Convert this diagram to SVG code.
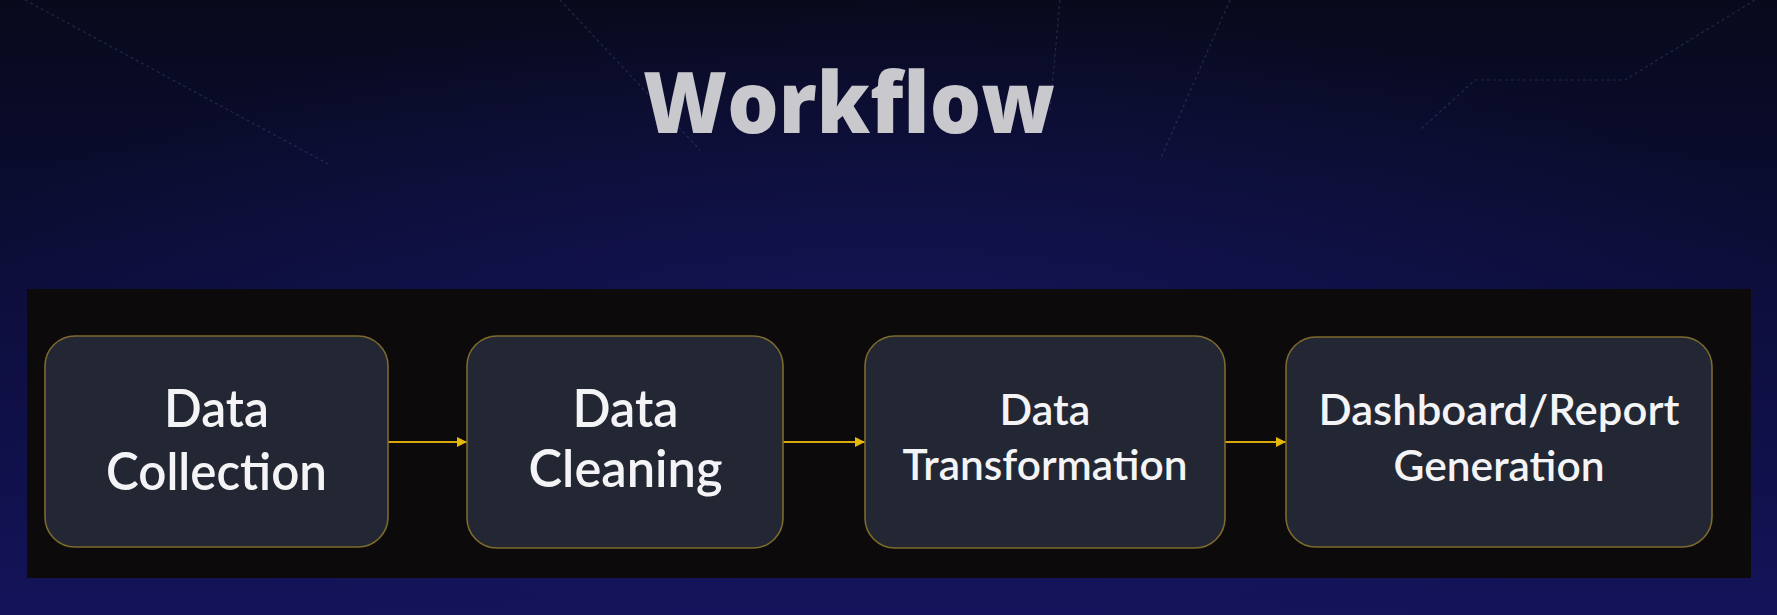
<svg xmlns="http://www.w3.org/2000/svg" width="1777" height="615" viewBox="0 0 1777 615">
<style>
.node rect{fill:#222733;stroke:#7d6a2c;stroke-width:1.6}
.lbl{font-family:"Lato","Liberation Sans",sans-serif;font-weight:600;fill:#f4f4f6;text-anchor:middle}
.big{font-size:51px}
.sm{font-size:43px}
.conn line{stroke:#d9a80c;stroke-width:2}
.deco{stroke:#5a6aa8;stroke-width:1.2;fill:none;stroke-dasharray:3 3;opacity:0.3}
</style>
<defs>
<linearGradient id="bg" x1="0" y1="0" x2="0" y2="1">
<stop offset="0" stop-color="#080a1c"/>
<stop offset="0.45" stop-color="#0c0d38"/>
<stop offset="1" stop-color="#14135a"/>
</linearGradient>
<radialGradient id="glow" cx="0.5" cy="0.55" r="0.55">
<stop offset="0" stop-color="#1a1a6a" stop-opacity="0.55"/>
<stop offset="1" stop-color="#1a1a6a" stop-opacity="0"/>
</radialGradient>
<marker id="ah" viewBox="0 0 10 10" refX="10" refY="5" markerWidth="5" markerHeight="5" orient="auto">
<path d="M0,0 L10,5 L0,10 z" fill="#e6b80a"/>
</marker>
</defs>
<rect width="1777" height="615" fill="url(#bg)"/>
<rect width="1777" height="615" fill="url(#glow)"/>
<g id="decoration">
<path class="deco" d="M25,0 L330,165"/>
<path class="deco" d="M560,0 L700,150"/>
<path class="deco" d="M1230,0 L1160,160"/>
<path class="deco" d="M1755,0 L1625,80 L1475,80 L1420,130"/>
<path class="deco" d="M1060,0 L1050,110"/>
</g>
<text x="849" y="133" font-family="'Open Sans','Liberation Sans',sans-serif" font-weight="800" font-size="85" fill="#c9c9cd" text-anchor="middle" textLength="412" lengthAdjust="spacingAndGlyphs">Workflow</text>
<rect id="panel" x="27" y="289" width="1724" height="289" fill="#0c0a0b"/>
<g id="connectors" class="conn">
<line x1="388" y1="442" x2="467" y2="442" marker-end="url(#ah)"/>
<line x1="783" y1="442" x2="865" y2="442" marker-end="url(#ah)"/>
<line x1="1225" y1="442" x2="1286" y2="442" marker-end="url(#ah)"/>
</g>
<g id="node1" class="node">
<rect x="45" y="336" width="343" height="211" rx="30"/>
<text class="lbl big" x="216.5" y="427" textLength="105" lengthAdjust="spacingAndGlyphs">Data</text>
<text class="lbl big" x="216.5" y="490" textLength="221" lengthAdjust="spacingAndGlyphs">Collection</text>
</g>
<g id="node2" class="node">
<rect x="467" y="336" width="316" height="212" rx="30"/>
<text class="lbl big" x="625.5" y="427" textLength="106" lengthAdjust="spacingAndGlyphs">Data</text>
<text class="lbl big" x="625.5" y="487" textLength="194" lengthAdjust="spacingAndGlyphs">Cleaning</text>
</g>
<g id="node3" class="node">
<rect x="865" y="336" width="360" height="212" rx="30"/>
<text class="lbl sm" x="1045" y="425">Data</text>
<text class="lbl sm" x="1045" y="480" textLength="285" lengthAdjust="spacingAndGlyphs">Transformation</text>
</g>
<g id="node4" class="node">
<rect x="1286" y="337" width="426" height="210" rx="30"/>
<text class="lbl sm" x="1499" y="425" textLength="361" lengthAdjust="spacingAndGlyphs">Dashboard/Report</text>
<text class="lbl sm" x="1499" y="481" textLength="211" lengthAdjust="spacingAndGlyphs">Generation</text>
</g>
</svg>
